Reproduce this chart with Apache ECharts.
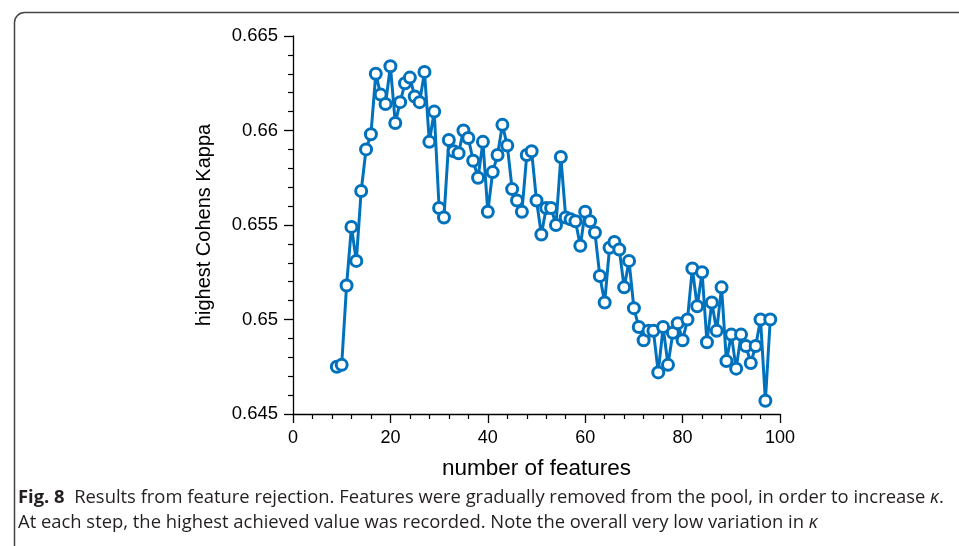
<!DOCTYPE html>
<html>
<head>
<meta charset="utf-8">
<script src="https://cdn.jsdelivr.net/npm/echarts@6/dist/echarts.min.js"></script>
<style>
html,body{margin:0;padding:0;background:#fff;}
#c{width:959px;height:546px;}
</style>
</head>
<body>
<div id="c"></div>
<script>
const features = [9,10,11,12,13,14,15,16,17,18,19,20,21,22,23,24,25,26,27,28,29,30,31,32,33,34,35,36,37,38,39,40,41,42,43,44,45,46,47,48,49,50,51,52,53,54,55,56,57,58,59,60,61,62,63,64,65,66,67,68,69,70,71,72,73,74,75,76,77,78,79,80,81,82,83,84,85,86,87,88,89,90,91,92,93,94,95,96,97,98];
const kappa = [
  0.6475,0.6476,0.6518,0.6549,0.6531,0.6568,0.6590,0.6598,0.6630,0.6619,
  0.6614,0.6634,0.6604,0.6615,0.6625,0.6628,0.6618,0.6615,0.6631,0.6594,
  0.6610,0.6559,0.6554,0.6595,0.6589,0.6588,0.6600,0.6596,0.6584,0.6575,
  0.6594,0.6557,0.6578,0.6587,0.6603,0.6592,0.6569,0.6563,0.6557,0.6587,
  0.6589,0.6563,0.6545,0.6559,0.6559,0.6550,0.6586,0.6554,0.6553,0.6552,
  0.6539,0.6557,0.6552,0.6546,0.6523,0.6509,0.6538,0.6541,0.6537,0.6517,
  0.6531,0.6506,0.6496,0.6489,0.6494,0.6494,0.6472,0.6496,0.6476,0.6493,
  0.6498,0.6489,0.6500,0.6527,0.6507,0.6525,0.6488,0.6509,0.6494,0.6517,
  0.6478,0.6492,0.6474,0.6492,0.6486,0.6477,0.6486,0.6500,0.6457,0.6500
];
const xTicks = [0,20,40,60,80,100];
const yTicks = [0.645,0.65,0.655,0.66,0.665];
const xTitle = 'number of features';
const yTitle = 'highest Cohens Kappa';
const captionBold = 'Fig. 8';
const captionLine1 = '  Results from feature rejection. Features were gradually removed from the pool, in order to increase ';
const captionLine2 = 'At each step, the highest achieved value was recorded. Note the overall very low variation in ';
const kappaSym = 'κ';

const chart = echarts.init(document.getElementById('c'), null, {renderer:'canvas'});
const blue = '#0072BD';
const axisFont = 'Liberation Sans, Arial, Helvetica, sans-serif';
const capFont = '"Open Sans", "Noto Sans", sans-serif';
const capRich = {
  b:{fontFamily:capFont, fontWeight:'bold', fontSize:18.4, fill:'#231f20'},
  n:{fontFamily:capFont, fontSize:18.4, fill:'#231f20'},
  i:{fontFamily:capFont, fontStyle:'italic', fontSize:18.4, fill:'#231f20'}
};
chart.setOption({
  animation:false,
  backgroundColor:'#fff',
  grid:{left:293, right:179, top:36, bottom:132, containLabel:false},
  xAxis:{
    type:'value', min:xTicks[0], max:xTicks[xTicks.length-1], interval:20,
    name:xTitle, nameLocation:'middle', nameGap:43,
    nameTextStyle:{fontFamily:axisFont, fontSize:22.5, color:'#000'},
    axisLine:{show:true, onZero:false, lineStyle:{color:'#000', width:1.3}},
    axisTick:{show:true, inside:false, length:9, lineStyle:{color:'#000', width:1.3}},
    minorTick:{show:true, splitNumber:5, length:5, lineStyle:{color:'#000', width:1.2}},
    splitLine:{show:false},
    axisLabel:{fontFamily:axisFont, fontSize:18, color:'#000', margin:15}
  },
  yAxis:{
    type:'value', min:yTicks[0], max:yTicks[yTicks.length-1], interval:0.005,
    name:yTitle, nameLocation:'middle', nameGap:79, nameRotate:90,
    nameTextStyle:{fontFamily:axisFont, fontSize:20, color:'#000'},
    axisLine:{show:true, onZero:false, lineStyle:{color:'#000', width:1.3}},
    axisTick:{show:true, inside:false, length:9, lineStyle:{color:'#000', width:1.3}},
    minorTick:{show:true, splitNumber:5, length:5, lineStyle:{color:'#000', width:1.2}},
    splitLine:{show:false},
    axisLabel:{fontFamily:axisFont, fontSize:18.5, color:'#000', margin:15,
      formatter:function(v){ return String(parseFloat(v.toFixed(3))); }}
  },
  series:[{
    type:'line',
    data:features.map((f,i)=>[f,kappa[i]]),
    symbol:'circle', symbolSize:11,
    lineStyle:{color:blue, width:3},
    itemStyle:{color:'#fff', borderColor:blue, borderWidth:3},
    z:3
  }],
  graphic:[
    {type:'rect', left:12, top:10, z:-1, shape:{width:1100, height:700, r:10},
     style:{fill:'none', stroke:'#444', lineWidth:1.5}},
    {type:'text', left:18, top:489,
     style:{text:'{b|'+captionBold+'}{n|'+captionLine1+'}{i|'+kappaSym+'}{n|.}', rich:capRich}},
    {type:'text', left:18, top:514,
     style:{text:'{n|'+captionLine2+'}{i|'+kappaSym+'}', rich:capRich}}
  ]
});
</script>
</body>
</html>
